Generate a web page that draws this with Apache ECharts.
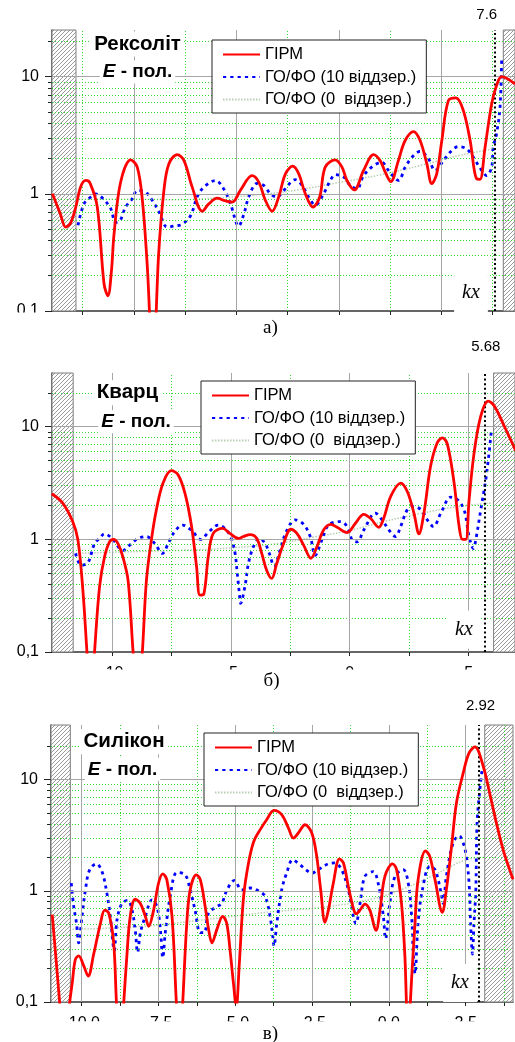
<!DOCTYPE html>
<html><head><meta charset="utf-8">
<script src="https://cdn.jsdelivr.net/npm/echarts@6/dist/echarts.min.js"></script>
<style>html,body{margin:0;padding:0;background:#fff}#c{width:515px;height:1042px}</style>
</head><body><div id="c"></div>
<script>
// ---------------- DATA ----------------
const seriesNames = ['ГІРМ', 'ГО/ФО (10 віддзер.)', 'ГО/ФО (0  віддзер.)'];
const panelTitles = ['Рексоліт', 'Кварц', 'Силікон'];
const panelLetters = ['а)', 'б)', 'в)'];
const axisName = 'kx';
const criticalKx = [7.6, 5.68, 2.92];
const criticalLabels = ['7.6', '5.68', '2.92'];
const xRanges = [[-14, 8.59], [-12.52, 6.95], [-11.0, 4.04]];
const yMin = 0.1;
const yMax = [25, 30, 31];
const hatchLeft = [[-14, -12.83], [-12.52, -11.63], [-11.0, -10.37]];
const hatchRight = [[8.02, 8.59], [6.05, 6.95], [3.12, 4.04]];
const xMajor = [[-10, -5, 0, 5], [-10, -5, 0, 5], [-10, -7.5, -5, -2.5, 0, 2.5]];
const xMinor = [[-12.5, -7.5, -2.5, 2.5, 7.5], [-7.5, -2.5, 2.5], [-8.75, -6.25, -3.75, -1.25, 1.25, 3.75]];
const yMajorTicks = [0.1, 1, 10];
const yMajorGrid = [1, 10];
const yMinorGrid = [0.2, 0.3, 0.4, 0.5, 0.6, 0.7, 0.8, 0.9, 2, 3, 4, 5, 6, 7, 8, 9, 20];
const yTickText = {'0.1': '0,1', '1': '1', '10': '10'};

const redA = [[-13.98,1.0],[-13.6,0.68],[-13.33,0.52],[-13.1,0.56],[-12.84,0.77],[-12.6,1.15],[-12.35,1.3],[-12.15,1.24],[-11.79,0.77],[-11.46,0.17],[-11.27,0.135],[-11.1,0.22],[-10.97,0.46],[-10.65,1.26],[-10.16,1.95],[-9.84,1.69],[-9.59,0.88],[-9.35,0.24],[-9.07,0.03],[-8.8,0.3],[-8.54,1.07],[-8.3,1.8],[-7.89,2.16],[-7.56,1.92],[-7.16,1.14],[-6.67,0.71],[-6.35,0.82],[-5.94,0.92],[-5.62,0.88],[-5.21,0.85],[-4.81,1.07],[-4.24,1.43],[-3.91,1.26],[-3.59,0.88],[-3.26,0.71],[-2.94,0.94],[-2.61,1.48],[-2.26,1.72],[-1.96,1.48],[-1.64,1.0],[-1.27,0.77],[-0.94,0.94],[-0.67,1.69],[-0.18,1.95],[0.15,1.69],[0.39,1.3],[0.75,1.08],[1.2,1.58],[1.69,2.16],[2.01,1.92],[2.26,1.53],[2.53,1.27],[2.9,1.92],[3.23,2.85],[3.64,3.4],[3.96,2.85],[4.29,1.8],[4.53,1.22],[4.77,1.48],[5.02,2.85],[5.34,6.24],[5.71,6.58],[6.07,5.13],[6.4,2.85],[6.72,1.34],[6.88,1.33],[7.13,2.5],[7.45,5.85],[7.69,8.4],[7.94,10.0],[8.59,8.66]];
const blueA = [[-12.73,0.54],[-12.44,0.82],[-12.11,0.94],[-11.87,1.0],[-11.46,0.89],[-11.14,0.75],[-10.89,0.57],[-10.68,0.59],[-10.41,0.77],[-10.08,0.91],[-9.84,1.07],[-9.43,1.03],[-9.11,0.88],[-8.78,0.7],[-8.38,0.52],[-8.05,0.53],[-7.65,0.55],[-7.24,0.65],[-6.92,0.94],[-6.59,1.14],[-6.02,1.3],[-5.62,1.1],[-5.29,0.82],[-4.89,0.53],[-4.64,0.67],[-4.4,0.94],[-3.99,1.23],[-3.67,1.18],[-3.34,1.0],[-3.02,0.94],[-2.69,1.07],[-2.13,1.32],[-1.8,1.18],[-1.48,0.94],[-1.15,0.8],[-0.75,1.0],[-0.42,1.3],[-0.18,1.46],[0.23,1.39],[0.55,1.18],[0.88,1.1],[1.2,1.43],[1.69,1.74],[2.09,1.86],[2.42,1.58],[2.91,1.3],[3.23,1.69],[3.64,2.12],[3.96,2.3],[4.37,1.99],[4.69,1.58],[5.1,1.92],[5.42,2.26],[5.83,2.53],[6.23,2.42],[6.56,2.05],[6.85,1.7],[7.21,1.43],[7.45,1.69],[7.53,2.5],[7.69,3.25],[7.86,5.5],[7.94,14.6]];
const faintA = [[-12.7,0.9],[-10,0.9],[-8,0.89],[-6,0.92],[-4,0.98],[-2,1.08],[0,1.25],[2,1.45],[4,1.75],[6,2.15],[7.5,2.4]];

const redB = [[-12.53,2.54],[-12.07,2.1],[-11.65,1.44],[-11.43,0.99],[-11.22,0.35],[-11.05,0.1],[-10.88,0.03],[-10.73,0.1],[-10.52,0.38],[-10.31,0.7],[-10.1,0.95],[-9.93,1.0],[-9.75,0.92],[-9.54,0.7],[-9.32,0.43],[-9.11,0.1],[-8.91,0.03],[-8.72,0.1],[-8.55,0.43],[-8.34,0.99],[-8.13,1.83],[-7.85,3.16],[-7.5,4.07],[-7.22,3.75],[-6.93,2.57],[-6.65,1.3],[-6.44,0.57],[-6.3,0.32],[-6.13,0.33],[-5.95,0.7],[-5.74,1.13],[-5.34,1.25],[-5.04,1.13],[-4.68,1.02],[-4.47,1.06],[-4.19,1.1],[-3.91,1.02],[-3.7,0.75],[-3.49,0.53],[-3.28,0.45],[-3.07,0.61],[-2.78,0.92],[-2.48,1.23],[-2.22,1.13],[-1.94,0.89],[-1.63,0.68],[-1.38,0.86],[-1.1,1.21],[-0.79,1.36],[-0.53,1.28],[-0.11,1.15],[0.24,1.39],[0.59,1.67],[0.87,1.54],[1.22,1.28],[1.43,1.54],[1.72,2.4],[2.14,3.16],[2.42,2.66],[2.7,1.71],[2.91,1.12],[3.12,1.71],[3.4,4.45],[3.68,7.2],[3.9,7.97],[4.11,6.95],[4.39,3.16],[4.6,1.3],[4.74,1.0],[4.88,1.0],[5.02,2.25],[5.23,5.86],[5.51,12.4],[5.82,16.9],[6.08,15.3],[6.5,10.1],[6.99,6.06]];
const blueB = [[-11.53,0.75],[-11.29,0.59],[-11.01,0.62],[-10.73,0.92],[-10.52,1.02],[-10.31,1.12],[-9.96,1.0],[-9.68,0.83],[-9.54,0.8],[-9.25,0.89],[-8.9,1.02],[-8.55,1.06],[-8.2,0.92],[-7.88,0.75],[-7.64,0.91],[-7.43,1.12],[-7.03,1.34],[-6.65,1.2],[-6.26,1.0],[-5.95,1.15],[-5.53,1.34],[-5.18,1.21],[-4.96,0.99],[-4.82,0.75],[-4.73,0.5],[-4.64,0.33],[-4.59,0.27],[-4.4,0.39],[-4.26,0.61],[-4.05,0.86],[-3.8,1.02],[-3.56,0.92],[-3.38,0.75],[-3.18,0.58],[-2.93,0.8],[-2.67,1.17],[-2.29,1.49],[-1.94,1.36],[-1.66,1.06],[-1.45,0.72],[-1.17,0.99],[-0.89,1.34],[-0.39,1.44],[-0.11,1.3],[0.1,0.99],[0.31,0.95],[0.59,1.21],[1.08,1.71],[1.36,1.49],[1.65,1.21],[1.93,1.06],[2.14,1.3],[2.42,1.83],[2.63,1.96],[3.01,1.83],[3.26,1.49],[3.52,1.3],[3.83,1.71],[4.25,2.37],[4.53,2.25],[4.81,1.83],[5.02,1.06],[5.2,0.83],[5.3,0.99],[5.51,1.83],[5.72,3.39],[5.86,5.85],[5.96,9.46]];
const faintB = [[-11.5,0.75],[-9,0.78],[-7,0.8],[-5,0.84],[-3,0.92],[-1.5,1.05],[0,1.2],[1.5,1.45],[3,1.7],[4.5,1.95],[6,2.1]];

const redC = [[-10.96,0.61],[-10.86,0.29],[-10.72,0.1],[-10.58,0.03],[-10.39,0.1],[-10.31,0.147],[-10.21,0.24],[-10.1,0.26],[-9.93,0.21],[-9.79,0.171],[-9.61,0.27],[-9.39,0.51],[-9.25,0.67],[-9.12,0.63],[-8.96,0.34],[-8.87,0.1],[-8.75,0.03],[-8.63,0.1],[-8.53,0.26],[-8.42,0.59],[-8.26,0.84],[-8.09,0.77],[-7.93,0.59],[-7.82,0.48],[-7.66,0.67],[-7.5,1.17],[-7.36,1.42],[-7.23,1.26],[-7.06,0.59],[-6.92,0.1],[-6.81,0.03],[-6.71,0.1],[-6.58,0.51],[-6.47,1.02],[-6.27,1.39],[-6.14,1.26],[-5.98,0.72],[-5.87,0.45],[-5.76,0.34],[-5.6,0.45],[-5.41,0.59],[-5.28,0.51],[-5.17,0.29],[-5.06,0.147],[-4.97,0.09],[-4.87,0.22],[-4.73,0.89],[-4.57,1.78],[-4.4,2.78],[-4.19,3.55],[-3.98,4.36],[-3.74,5.29],[-3.49,4.84],[-3.27,3.67],[-3.11,2.98],[-2.95,3.31],[-2.73,3.93],[-2.51,3.31],[-2.35,2.04],[-2.22,1.02],[-2.08,0.52],[-1.97,0.67],[-1.81,1.17],[-1.61,1.94],[-1.48,1.78],[-1.32,1.09],[-1.16,0.7],[-1.07,0.62],[-0.94,0.67],[-0.78,0.76],[-0.62,0.67],[-0.42,0.44],[-0.29,0.67],[-0.13,1.35],[0.12,1.75],[0.25,1.55],[0.41,0.77],[0.52,0.26],[0.57,0.1],[0.64,0.03],[0.7,0.1],[0.85,0.51],[0.95,1.26],[1.19,2.29],[1.33,2.04],[1.5,1.26],[1.74,0.64],[1.87,1.02],[2.04,2.51],[2.2,6.2],[2.42,11.5],[2.61,17.4],[2.8,19.7],[3.07,13.2],[3.28,7.57],[3.5,4.07],[3.72,2.34],[3.93,1.55],[4.04,1.27]];
const blueC = [[-10.34,1.17],[-10.26,0.72],[-10.17,0.51],[-10.1,0.34],[-9.99,0.59],[-9.88,1.02],[-9.74,1.55],[-9.52,1.75],[-9.34,1.49],[-9.18,0.95],[-9.07,0.59],[-8.94,0.29],[-8.85,0.55],[-8.69,0.77],[-8.5,0.82],[-8.36,0.67],[-8.26,0.45],[-8.18,0.28],[-8.09,0.42],[-7.93,0.59],[-7.71,0.83],[-7.55,0.72],[-7.44,0.45],[-7.36,0.25],[-7.28,0.42],[-7.12,0.89],[-6.9,1.46],[-6.63,1.39],[-6.47,1.02],[-6.31,0.67],[-6.14,0.42],[-6.01,0.42],[-5.87,0.63],[-5.6,0.72],[-5.44,0.77],[-5.27,1.02],[-5.03,1.24],[-4.79,1.02],[-4.52,1.06],[-4.25,1.0],[-4.03,0.89],[-3.87,0.59],[-3.78,0.39],[-3.74,0.32],[-3.65,0.51],[-3.49,1.02],[-3.33,1.44],[-3.13,1.9],[-2.89,1.71],[-2.62,1.49],[-2.51,1.44],[-2.3,1.55],[-1.97,1.75],[-1.76,1.78],[-1.54,1.55],[-1.32,1.02],[-1.07,0.51],[-0.94,0.77],[-0.78,1.35],[-0.51,1.49],[-0.35,1.17],[-0.18,0.59],[-0.11,0.37],[0.03,0.77],[0.2,1.35],[0.47,1.55],[0.63,1.17],[0.74,0.59],[0.79,0.29],[0.85,0.18],[0.95,0.51],[1.09,1.02],[1.33,1.66],[1.5,1.55],[1.68,1.02],[1.77,0.77],[1.87,1.35],[2.09,2.69],[2.29,3.13],[2.42,2.69],[2.52,2.04],[2.61,1.17],[2.66,0.51],[2.72,0.27],[2.77,0.51],[2.83,1.02],[2.87,4.07],[2.96,8.1],[3.04,12.7]];
const faintC = [[-10.3,0.45],[-8,0.48],[-6,0.55],[-4,0.64],[-2,0.72],[-0.5,0.85],[0.5,1.05],[1.5,1.4],[2.5,1.9],[3.1,2.0]];

const redData = [redA, redB, redC];
const blueData = [blueA, blueB, blueC];
const faintData = [faintA, faintB, faintC];

// ---------------- LAYOUT / STYLE ----------------
const FONT = "'Liberation Sans', Arial, sans-serif";
const grids = [
  {left: 52, top: 30, width: 463, height: 281},
  {left: 52, top: 373, width: 463, height: 279},
  {left: 51, top: 725, width: 462, height: 277}
];
const legendPos = [[212, 40], [201, 381], [204, 733]];
const titlePos = [[137.5, 44, 137.5, 72], [127.5, 392.7, 136, 421.7], [124, 741.7, 122.5, 769.3]];
const kxPos = [[471, 293], [464, 629.5], [460, 983]];
const letterPos = [[270.5, 328], [271.5, 681], [270.5, 1034]];
const critLabelDist = [7.5, 18.5, 11.5];
const critLabelOff = [-8, 1, 2];
const xLabelMargin = [10, 13.5, 14];
const xLabelFmt = [v => String(v), v => String(v), v => v.toFixed(1)];
const AXIS = {color: '#333', width: 1.5};

const hatch = (() => {
  const c = document.createElement('canvas'); c.width = 4; c.height = 4;
  const g = c.getContext('2d');
  g.fillStyle = '#ffffff'; g.fillRect(0, 0, 4, 4);
  g.strokeStyle = '#8f8f8f'; g.lineWidth = 0.9;
  g.beginPath();
  g.moveTo(0, 4); g.lineTo(4, 0);
  g.moveTo(-1, 1); g.lineTo(1, -1);
  g.moveTo(3, 5); g.lineTo(5, 3);
  g.stroke();
  return c;
})();

const GRAY = {color: '#a6a6a6', width: 1, type: 'solid'};
const GREEN = {color: '#2fdc2f', width: 1, type: [1, 2]};

const xAxes = [], yAxes = [], series = [], legends = [], graphics = [];

for (let i = 0; i < 3; i++) {
  const within = (arr, v) => arr.some(a => Math.abs(a - v) < 1e-6);
  xAxes.push({
    type: 'value', gridIndex: i, min: xRanges[i][0], max: xRanges[i][1], position: 'bottom',
    axisLine: {show: true, onZero: false, lineStyle: AXIS},
    axisTick: {show: true, length: 4, lineStyle: {color: '#222'}, customValues: xMajor[i].concat(xMinor[i]).sort((a, b) => a - b)},
    axisLabel: {show: i > 0, customValues: xMajor[i], margin: xLabelMargin[i], color: '#000', fontSize: 16, fontFamily: FONT,
      formatter: v => within(xMajor[i], v) ? xLabelFmt[i](v) : ''},
    splitLine: {show: false}
  });
  yAxes.push({
    type: 'log', logBase: 10, gridIndex: i, min: yMin, max: yMax[i], position: 'left',
    axisLine: {show: true, onZero: false, lineStyle: AXIS},
    axisTick: {show: true, length: 7, lineStyle: {color: '#222'}, customValues: yMajorTicks},
    axisLabel: {customValues: yMajorTicks, margin: 13, color: '#000', fontSize: 16, fontFamily: FONT,
      formatter: v => { for (const k in yTickText) { if (Math.abs(+k - v) < 1e-6 * Math.max(1, v)) return yTickText[k]; } return ''; }},
    splitLine: {show: false}
  });
  yAxes.push({
    type: 'log', logBase: 10, gridIndex: i, min: yMin, max: yMax[i], position: 'left',
    axisLine: {show: false, onZero: false},
    axisTick: {show: true, length: 4, lineStyle: {color: '#222'}, customValues: yMinorGrid.filter(v => v < yMax[i])},
    axisLabel: {show: false}, splitLine: {show: false}
  });
  const xi = i, yi = 2 * i;
  const gridLines = [];
  yMinorGrid.forEach(v => { if (v < yMax[i]) gridLines.push({yAxis: v, lineStyle: GREEN}); });
  xMinor[i].forEach(v => gridLines.push({xAxis: v, lineStyle: GREEN}));
  yMajorGrid.forEach(v => gridLines.push({yAxis: v, lineStyle: GRAY}));
  xMajor[i].forEach(v => gridLines.push({xAxis: v, lineStyle: GRAY}));
  series.push({
    type: 'line', name: '_grid' + i, xAxisIndex: xi, yAxisIndex: yi, data: [], z: 1, silent: true,
    markLine: {symbol: ['none', 'none'], silent: true, animation: false, label: {show: false}, emphasis: {disabled: true}, data: gridLines}
  });
  series.push({
    type: 'line', name: '_hatch' + i, xAxisIndex: xi, yAxisIndex: yi, data: [], z: 2, silent: true,
    markArea: {silent: true, animation: false, label: {show: false},
      itemStyle: {color: {image: hatch, repeat: 'repeat'}, opacity: 1, borderColor: '#7f7f7f', borderWidth: 1},
      emphasis: {disabled: true},
      data: [[{xAxis: hatchLeft[i][0]}, {xAxis: hatchLeft[i][1]}], [{xAxis: hatchRight[i][0]}, {xAxis: hatchRight[i][1]}]]}
  });
  series.push({
    type: 'line', name: seriesNames[2], xAxisIndex: xi, yAxisIndex: yi, data: faintData[i], z: 3,
    symbol: 'none', smooth: 0.4, silent: true,
    lineStyle: {color: '#b9cfb3', width: 1.5, type: [1.5, 1.5]}, itemStyle: {color: '#b9cfb3'}
  });
  series.push({
    type: 'line', name: seriesNames[1], xAxisIndex: xi, yAxisIndex: yi, data: blueData[i], z: 4,
    symbol: 'none', smooth: 0.35, silent: true,
    lineStyle: {color: '#0000ff', width: 2.8, type: [3.2, 4.1]}, itemStyle: {color: '#0000ff'}
  });
  series.push({
    type: 'line', name: seriesNames[0], xAxisIndex: xi, yAxisIndex: yi, data: redData[i], z: 5,
    symbol: 'none', smooth: 0.35, silent: true,
    lineStyle: {color: '#ff0000', width: 2.8}, itemStyle: {color: '#ff0000'}
  });
  series.push({
    type: 'line', name: '_crit' + i, xAxisIndex: xi, yAxisIndex: yi, data: [], z: 6, silent: true,
    markLine: {symbol: ['none', 'none'], silent: true, animation: false, emphasis: {disabled: true},
      lineStyle: {color: '#000', width: 2, type: [2, 2.6]},
      label: {show: true, position: 'end', formatter: criticalLabels[i], distance: critLabelDist[i], offset: [critLabelOff[i], 0],
        color: '#000', fontSize: 15, fontFamily: FONT},
      data: [{xAxis: criticalKx[i]}]}
  });
  legends.push({
    data: seriesNames.slice(), orient: 'vertical', left: legendPos[i][0], top: legendPos[i][1],
    itemWidth: 37, itemHeight: 14, itemGap: 5.5, padding: [6, 10, 5, 10],
    backgroundColor: '#fff', borderColor: '#222', borderWidth: 1, borderRadius: 0,
    selectedMode: false, z: 20,
    itemStyle: {opacity: 0, borderWidth: 0},
    textStyle: {color: '#000', fontSize: 16.5, fontFamily: FONT, lineHeight: 15}
  });
  graphics.push({type: 'text', x: titlePos[i][0], y: titlePos[i][1], z: 30,
    style: {text: panelTitles[i], fill: '#000', font: "bold 20.5px 'Liberation Sans', Arial, sans-serif",
      align: 'center', verticalAlign: 'middle', backgroundColor: '#fff', padding: [2, 3]}});
  graphics.push({type: 'text', x: titlePos[i][2], y: titlePos[i][3], z: 30,
    style: {text: '{i|E}{b| - пол.}', align: 'center', verticalAlign: 'middle', backgroundColor: '#fff', padding: [2, 3],
      rich: {i: {fill: '#000', fontStyle: 'italic', fontWeight: 'bold', fontSize: 19, fontFamily: FONT},
             b: {fill: '#000', fontWeight: 'bold', fontSize: 19, fontFamily: FONT}}}});
  graphics.push({type: 'text', x: kxPos[i][0], y: kxPos[i][1], z: 30,
    style: {text: axisName, fill: '#000', font: "italic 20px 'Liberation Serif', 'Times New Roman', serif",
      align: 'center', verticalAlign: 'middle', backgroundColor: '#fff', padding: [6, 8, 12, 8]}});
}
// covers that crop the bottom of the axis labels, as in the scanned original
graphics.push({type: 'rect', z: 40, shape: {x: 0, y: 312.5, width: 50, height: 20}, style: {fill: '#fff'}});
graphics.push({type: 'rect', z: 40, shape: {x: 0, y: 669.5, width: 515, height: 30}, style: {fill: '#fff'}});
graphics.push({type: 'rect', z: 40, shape: {x: 0, y: 1021.3, width: 515, height: 21}, style: {fill: '#fff'}});
for (let i = 0; i < 3; i++) {
  graphics.push({type: 'text', x: letterPos[i][0], y: letterPos[i][1], z: 41,
    style: {text: panelLetters[i], fill: '#000', font: "19px 'Liberation Serif', 'Times New Roman', serif", align: 'center', verticalAlign: 'middle'}});
}

const chart = echarts.init(document.getElementById('c'), null, {renderer: 'canvas', width: 515, height: 1042});
chart.setOption({
  animation: false,
  backgroundColor: '#fff',
  grid: grids.map(g => Object.assign({containLabel: false, outerBoundsMode: 'none'}, g)),
  xAxis: xAxes,
  yAxis: yAxes,
  legend: legends,
  series: series,
  graphic: {elements: graphics}
});
</script></body></html>
